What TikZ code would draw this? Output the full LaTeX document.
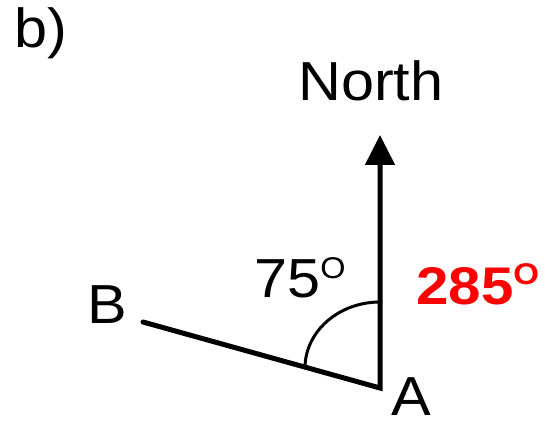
\documentclass[tikz,border=0pt]{standalone}
\usepackage{graphicx}
\usepackage{fontspec}
\setmainfont{Liberation Sans}
\usetikzlibrary{arrows.meta}
\newcommand{\hs}[2][1.08]{\scalebox{#1}[1]{#2}}
\newcommand{\degsup}{\raisebox{20pt}{\fontsize{30}{30}\selectfont O}}
\begin{document}
\begin{tikzpicture}[x=1pt,y=-1pt,
  lbl/.style={inner sep=0pt, anchor=base west, text depth=0pt, font=\fontsize{55}{60}\selectfont},
  thick line/.style={line width=5pt, line join=miter, line cap=round},
  arcline/.style={line width=3pt}]
\useasboundingbox (0,0) rectangle (549,422);
\coordinate (A) at (380,388);
\coordinate (B) at (143,322);
\coordinate (N) at (380,135);
\coordinate (arcstart) at (380,302);
\draw[thick line, -{Triangle[length=30pt,width=29pt]}] (B) -- (A) -- (N);
\draw[arcline] (arcstart) arc[start angle=270, end angle=180, x radius=75, y radius=66];
\node[lbl] (lb) at (14,48) {\hs{b)}};
\node[lbl] (lnorth) at (298,101) {\hs{North}};
\node[lbl] (l75) at (254,298) {\hs{75\degsup}};
\node[lbl, text=red] (l285) at (416,304) {\hs[1.1]{\fontsize{53}{60}\selectfont\bfseries 285\raisebox{20pt}{\fontsize{30}{30}\selectfont\bfseries O}}};
\node[lbl] (lA) at (391,415) {\hs{A}};
\node[lbl] (lB) at (87,323) {\hs{B}};
\end{tikzpicture}
\end{document}
